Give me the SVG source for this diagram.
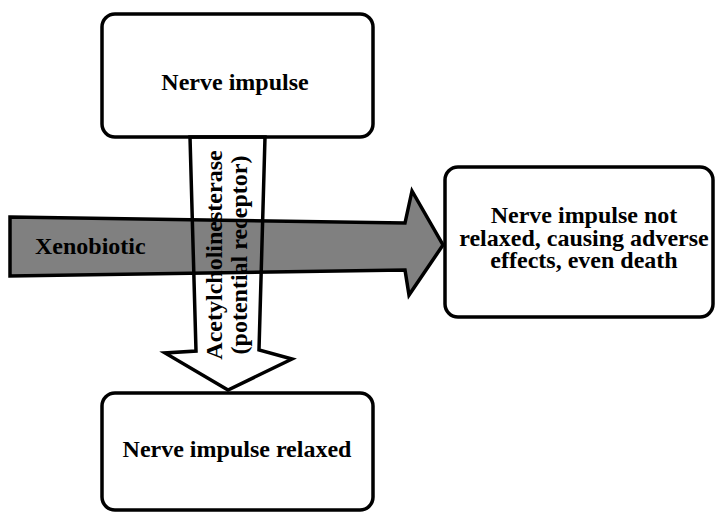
<svg xmlns="http://www.w3.org/2000/svg" width="715" height="512" viewBox="0 0 715 512">
<style>
.box{fill:#fff;stroke:#000;stroke-width:3.5}
.t{font-family:"Liberation Serif","Times New Roman",serif;font-weight:bold;font-size:24px;fill:#000}
.arr{stroke:#000;stroke-width:3.5;stroke-linejoin:miter}
</style>
<rect width="715" height="512" fill="#fff"/>
<g id="node-top">
<rect class="box" x="102" y="14" width="271" height="123" rx="13"/>
<text class="t" x="235" y="90" text-anchor="middle">Nerve impulse</text>
</g>
<g id="node-right">
<rect class="box" x="445" y="167" width="268" height="150" rx="13"/>
<text class="t" text-anchor="middle"><tspan x="584" y="223">Nerve impulse not</tspan><tspan x="584" y="246">relaxed, causing adverse</tspan><tspan x="584" y="268">effects, even death</tspan></text>
</g>
<g id="node-bottom">
<rect class="box" x="102" y="393" width="271" height="117" rx="13"/>
<text class="t" x="237" y="457" text-anchor="middle">Nerve impulse relaxed</text>
</g>
<g id="connectors">
<g id="xenobiotic-arrow">
<polygon class="arr" fill="#808080" points="10,217 405,223 412,191 443,245 409,295 405,270 10,276"/>
<text class="t" x="35" y="254">Xenobiotic</text>
</g>
<g id="ache-arrow">
<polygon class="arr" fill="none" points="190,137 265,137 259,350 292,359 228,390 165,353 196,351"/>
<text class="t" transform="translate(222,255) rotate(-90)" text-anchor="middle"><tspan x="0" y="0">Acetylcholinesterase</tspan><tspan x="0" y="25">(potential receptor)</tspan></text>
</g>
</g>
</svg>
